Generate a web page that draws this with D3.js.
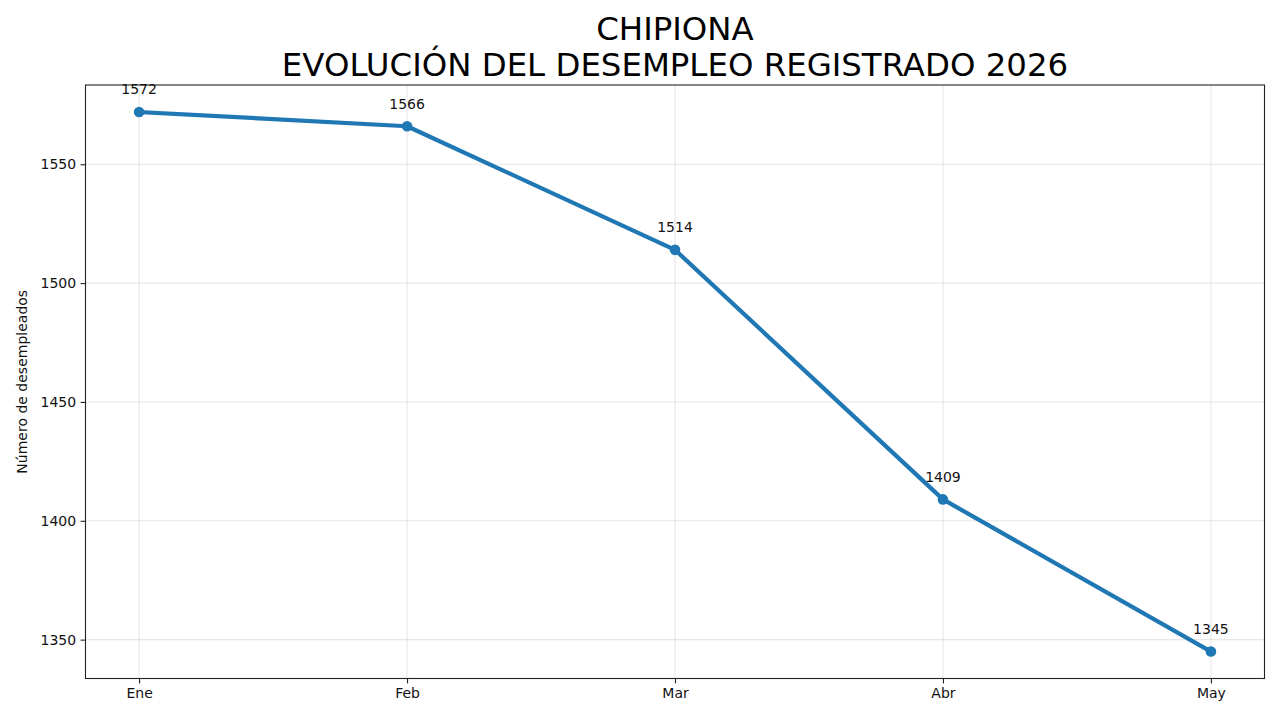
<!DOCTYPE html>
<html>
<head>
<meta charset="utf-8">
<script src="https://cdn.jsdelivr.net/npm/d3@7"></script>
<style>
  body { margin: 0; background: #fff; }
  svg { display: block; font-family: "DejaVu Sans", sans-serif; }
</style>
</head>
<body>
<svg id="chart"></svg>
<script>
const months = ['Ene', 'Feb', 'Mar', 'Abr', 'May']
const parados = [1572, 1566, 1514, 1409, 1345]
const yTicks = [1350, 1400, 1450, 1500, 1550]
const titleLines = ['CHIPIONA', 'EVOLUCIÓN DEL DESEMPLEO REGISTRADO 2026']
const yLabel = 'Número de desempleados'

const W = 1280, H = 720
const m = { top: 85, right: 15.5, bottom: 41.5, left: 85.5 }
const iw = W - m.left - m.right
const ih = H - m.top - m.bottom
const blue = '#1f77b4'

const svg = d3.select('#chart').attr('width', W).attr('height', H)

// matplotlib style 5% margins
const xScale = d3.scaleLinear()
    .domain([-0.2, months.length - 1 + 0.2])
    .range([0, iw])
const yMin = d3.min(parados), yMax = d3.max(parados)
const pad = (yMax - yMin) * 0.05
const yScale = d3.scaleLinear()
    .domain([yMin - pad, yMax + pad])
    .range([ih, 0])

const g = svg.append('g').attr('transform', `translate(${m.left},${m.top})`)

// grid
g.append('g')
    .selectAll('line')
    .data(yTicks)
    .join('line')
    .attr('x1', 0).attr('x2', iw)
    .attr('y1', d => yScale(d)).attr('y2', d => yScale(d))
    .attr('stroke', '#b0b0b0').attr('stroke-opacity', 0.3).attr('stroke-width', 1.1)
g.append('g')
    .selectAll('line')
    .data(months)
    .join('line')
    .attr('x1', (d, i) => xScale(i)).attr('x2', (d, i) => xScale(i))
    .attr('y1', 0).attr('y2', ih)
    .attr('stroke', '#b0b0b0').attr('stroke-opacity', 0.3).attr('stroke-width', 1.1)

// axes
const xAxis = d3.axisBottom(xScale)
    .tickValues(months.map((d, i) => i))
    .tickFormat(i => months[i])
    .tickSize(4.9).tickPadding(4.5)
const yAxis = d3.axisLeft(yScale)
    .tickValues(yTicks)
    .tickFormat(d3.format('d'))
    .tickSize(4.9).tickPadding(4.5)

const gx = g.append('g').attr('transform', `translate(0,${ih})`).call(xAxis)
const gy = g.append('g').call(yAxis)
;[gx, gy].forEach(a => {
    a.select('.domain').remove()
    a.selectAll('line').attr('stroke', '#222').attr('stroke-width', 1.1)
    a.selectAll('text').attr('fill', '#111').style('font-size', '14px')
        .style('font-family', '"DejaVu Sans", sans-serif')
})

// frame
g.append('rect')
    .attr('width', iw).attr('height', ih)
    .attr('fill', 'none').attr('stroke', '#222').attr('stroke-width', 1.1)

// line + markers
const line = d3.line()
    .x((d, i) => xScale(i))
    .y(d => yScale(d))
g.append('path')
    .datum(parados)
    .attr('d', line)
    .attr('fill', 'none')
    .attr('stroke', blue)
    .attr('stroke-width', 4.2)
    .attr('stroke-linejoin', 'round')
    .attr('stroke-linecap', 'square')
g.selectAll('.dot')
    .data(parados)
    .join('circle')
    .attr('class', 'dot')
    .attr('cx', (d, i) => xScale(i))
    .attr('cy', d => yScale(d))
    .attr('r', 5.3)
    .attr('fill', blue)

// value labels
g.selectAll('.lbl')
    .data(parados)
    .join('text')
    .attr('class', 'lbl')
    .attr('x', (d, i) => xScale(i))
    .attr('y', d => yScale(d) - 17.5)
    .attr('text-anchor', 'middle')
    .attr('fill', '#111')
    .style('font-size', '14px')
    .text(d => d)

// y label
svg.append('text')
    .attr('transform', `translate(27,${m.top + ih / 2}) rotate(-90)`)
    .attr('text-anchor', 'middle')
    .attr('fill', '#111')
    .style('font-size', '14px')
    .text(yLabel)

// title
svg.append('g')
    .selectAll('text')
    .data(titleLines)
    .join('text')
    .attr('x', m.left + iw / 2)
    .attr('y', (d, i) => 40 + i * 36)
    .attr('text-anchor', 'middle')
    .attr('fill', '#000')
    .style('font-size', '32.4px')
    .text(d => d)
</script>
</body>
</html>
